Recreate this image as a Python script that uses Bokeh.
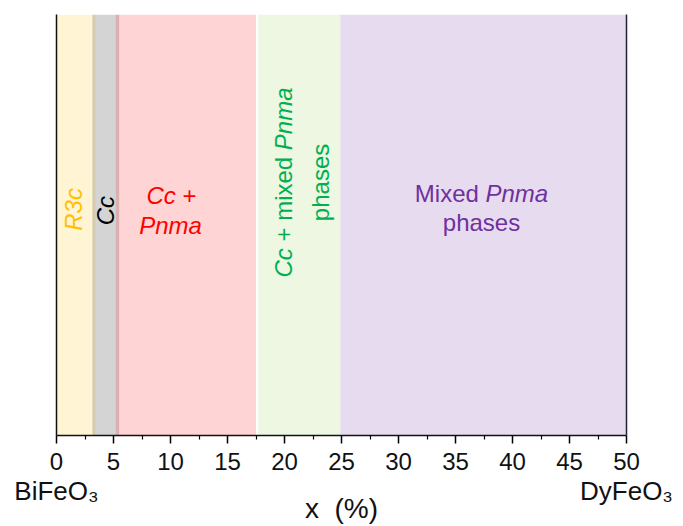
import math
from bokeh.plotting import figure
from bokeh.models import Label, LinearAxis, FixedTicker, Range1d
from bokeh.embed import file_html
from bokeh.resources import INLINE

# ---- data ----
phase_start = [0.0, 3.15, 5.2, 17.7, 24.9]
phase_end = [3.4, 5.5, 17.5, 24.9, 50.0]
phase_fill = ["#FFC000", "#000000", "#FF0000", "#92D050", "#7030A0"]
phase_text_color = ["#FFC000", "#000000", "#FF0000", "#00B050", "#7030A0"]
x_ticks = [0, 5, 10, 15, 20, 25, 30, 35, 40, 45, 50]
end_labels = {0: "BiFeO\u2083", 50: "DyFeO\u2083"}
x_label = "x\u00a0\u00a0(%)"

FONT = "Liberation Sans"
FW, FH = 570, 421
X0, X1 = 0, 50
PXX = FW / (X1 - X0)
PXY = FH / 1.0

# Arial/Liberation Sans advance widths (em)
W = {" ": .278, "+": .584, "C": .722, "c": .5, "m": .833, "i": .222, "x": .5,
     "e": .556, "d": .556, "P": .667, "n": .556, "a": .556, "M": .833, "p": .556,
     "h": .556, "s": .5, "R": .722, "3": .556, "B": .667, "F": .611, "O": .778,
     "D": .722, "y": .5}


def tw(s, size):
    return sum(W.get(ch, .556) for ch in s) * size


p = figure(frame_width=FW, frame_height=FH, output_backend="svg", toolbar_location=None,
           x_range=Range1d(X0, X1), y_range=Range1d(0, 1),
           min_border_left=56, min_border_top=14, min_border_right=57, min_border_bottom=85)
p.outline_line_color = None
p.xgrid.visible = False
p.ygrid.visible = False
p.background_fill_color = "white"

p.quad(left=phase_start, right=phase_end, bottom=0, top=1,
       fill_color=phase_fill, fill_alpha=0.17, line_color=None)

xa = p.xaxis[0]
xa.ticker = FixedTicker(ticks=x_ticks, minor_ticks=[v + 2.5 for v in x_ticks[:-1]])
xa.axis_line_width = 1.5
xa.axis_line_color = "#111111"
xa.major_tick_out = 8
xa.major_tick_in = 0
xa.minor_tick_out = 4
xa.minor_tick_in = 0
xa.major_tick_line_width = 1.5
xa.minor_tick_line_width = 1.2
xa.major_label_text_font = FONT
xa.major_label_text_font_size = "24px"
xa.major_label_text_color = "#111111"
xa.major_label_standoff = 9

# second bottom axis: compound names at the two ends + axis title
xb = LinearAxis(ticker=FixedTicker(ticks=list(end_labels.keys())),
                major_label_overrides=end_labels,
                axis_line_color=None, major_tick_line_color=None, minor_tick_line_color=None,
                major_label_standoff=-3,
                major_label_text_font=FONT, major_label_text_font_size="26px",
                major_label_text_color="#111111",
                axis_label=x_label, axis_label_text_font=FONT,
                axis_label_text_font_size="28px", axis_label_text_font_style="normal",
                axis_label_text_color="#111111", axis_label_standoff=-16)
p.add_layout(xb, "below")

ya = p.yaxis[0]
ya.ticker = FixedTicker(ticks=[])
ya.axis_line_width = 1.5
ya.axis_line_color = "#111111"
ra = LinearAxis(ticker=FixedTicker(ticks=[]), axis_line_width=1.5, axis_line_color="#222233")
p.add_layout(ra, "right")


def add_line(segs, cx, cy, size, color, vertical=False):
    total = sum(tw(t, size) for t, _ in segs)
    pos = -total / 2
    for t, it in segs:
        lead = len(t) - len(t.lstrip(" "))
        start = pos + tw(" " * lead, size)
        if vertical:
            x, y, ang = cx, cy + start / PXY, math.pi / 2
        else:
            x, y, ang = cx + start / PXX, cy, 0
        p.add_layout(Label(x=x, y=y, text=t.strip(), angle=ang, text_align="left",
                           text_baseline="middle", text_font=FONT,
                           text_font_size=f"{size}px",
                           text_font_style="italic" if it else "normal",
                           text_color=color))
        pos += tw(t, size)


S = 24
add_line([("R3c", True)], 1.49, 0.537, S, phase_text_color[0], vertical=True)
add_line([("Cc", True)], 4.3, 0.534, S, phase_text_color[1], vertical=True)
add_line([("Cc", True), (" +", False)], 10.09, 0.570, S, phase_text_color[2])
add_line([("Pnma", True)], 10.0, 0.499, S, phase_text_color[2])
add_line([("Cc", True), (" + mixed ", False), ("Pnma", True)], 19.91, 0.601, S,
         phase_text_color[3], vertical=True)
add_line([("phases", False)], 23.16, 0.601, S, phase_text_color[3], vertical=True)
add_line([("Mixed ", False), ("Pnma", True)], 37.28, 0.575, S, phase_text_color[4])
add_line([("phases", False)], 37.28, 0.506, S, phase_text_color[4])

open("out.html", "w").write(file_html(p, INLINE))
